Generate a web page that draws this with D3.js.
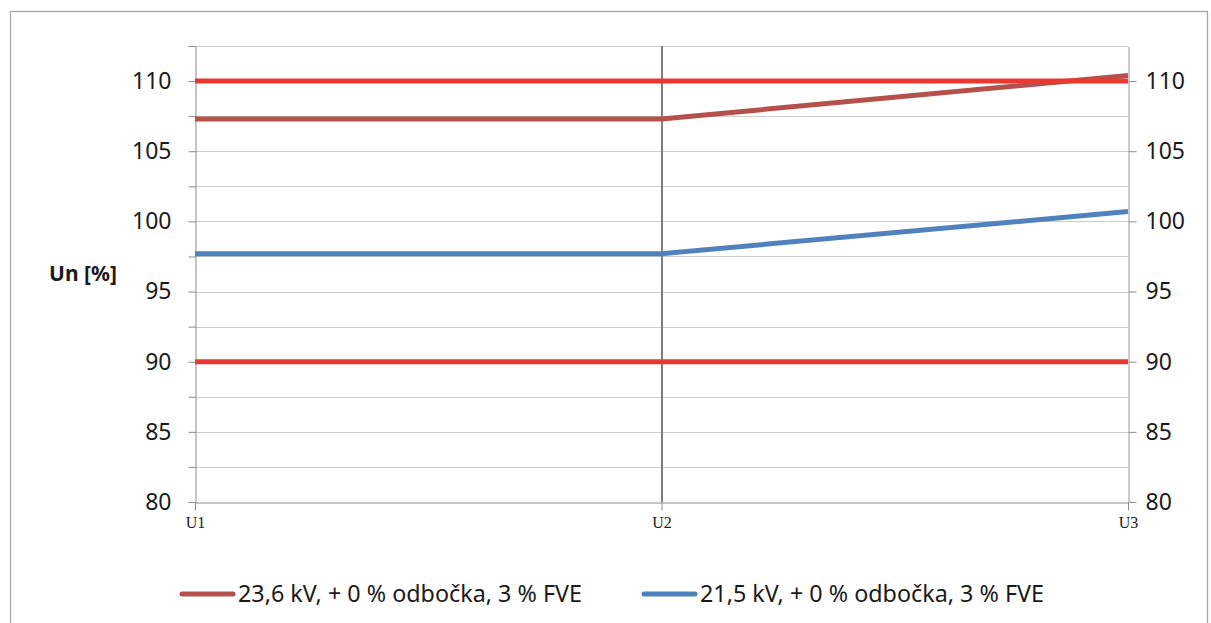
<!DOCTYPE html>
<html>
<head>
<meta charset="utf-8">
<script src="https://cdn.jsdelivr.net/npm/d3@7"></script>
<style>
  html, body { margin: 0; padding: 0; background: #fff; }
  svg { display: block; }
</style>
</head>
<body>
<svg id="chart" width="1211" height="623"></svg>
<script>
// Measurement points along the feeder
const categories = ["U1", "U2", "U3"];
// Voltage profiles, % of nominal
const seriesNames = ["23,6 kV, + 0 % odbočka, 3 % FVE", "21,5 kV, + 0 % odbočka, 3 % FVE"];
const seriesHigh = [107.3, 107.3, 110.4];
const seriesLow = [97.7, 97.7, 100.7];
// Permitted voltage band limits
const upperLimit = [110, 110, 110];
const lowerLimit = [90, 90, 90];
// Axis ticks
const majorTicks = [80, 85, 90, 95, 100, 105, 110];
const minorTicks = [80, 82.5, 85, 87.5, 90, 92.5, 95, 97.5, 100, 102.5, 105, 107.5, 110, 112.5];

const svg = d3.select("#chart");
const font = "'Noto Sans', 'Open Sans', sans-serif";

const plotLeft = 195, plotRight = 1128, plotTop = 46, plotBottom = 502;

const x = d3.scalePoint().domain(categories).range([plotLeft, plotRight]);
const y = d3.scaleLinear().domain([80, 112.5]).range([plotBottom, plotTop]);

// Outer chart frame
svg.append("rect")
  .attr("x", 10.5).attr("y", 11.5)
  .attr("width", 1197).attr("height", 700)
  .attr("fill", "#fff").attr("stroke", "#a6a6a6").attr("stroke-width", 1.3);

// Horizontal gridlines
svg.append("g")
  .selectAll("line")
  .data(minorTicks.filter(v => v > 80))
  .join("line")
  .attr("x1", plotLeft).attr("x2", plotRight)
  .attr("y1", d => Math.round(y(d)) + 0.5).attr("y2", d => Math.round(y(d)) + 0.5)
  .attr("stroke", "#cdcdcd").attr("stroke-width", 1);

// Left axis: ticks every 2.5, labels on whole fives
const leftAxis = d3.axisLeft(y).tickValues(minorTicks).tickSize(7).tickSizeOuter(0).tickPadding(17)
  .tickFormat(d => majorTicks.includes(d) ? d : "");
const gl = svg.append("g").attr("transform", `translate(${plotLeft + 0.5},0)`).call(leftAxis);
gl.select(".domain").attr("stroke", "#8c8c8c");
gl.selectAll(".tick line").attr("stroke", "#8c8c8c");
gl.selectAll(".tick text").attr("font-family", font).attr("font-size", 23).attr("fill", "#1a1a1a");

// Right axis
const rightAxis = d3.axisRight(y).tickValues(majorTicks).tickSize(8).tickSizeOuter(0).tickPadding(9);
const gr = svg.append("g").attr("transform", `translate(${plotRight + 0.5},0)`).call(rightAxis);
gr.select(".domain").attr("stroke", "#9a9a9a");
gr.selectAll(".tick line").attr("stroke", "#8c8c8c");
gr.selectAll(".tick text").attr("font-family", font).attr("font-size", 23).attr("fill", "#1a1a1a");

// Category axis
const bottomAxis = d3.axisBottom(x).tickSize(8).tickSizeOuter(0).tickPadding(6);
const gb = svg.append("g").attr("transform", `translate(0,${plotBottom + 0.5})`).call(bottomAxis);
gb.select(".domain").attr("stroke", "#8c8c8c");
gb.selectAll(".tick line").attr("stroke", "#8c8c8c");
gb.selectAll(".tick text").attr("font-family", "'Liberation Serif', 'DejaVu Serif', serif")
  .attr("font-size", 16).attr("fill", "#1a1a1a");

// Vertical marker at U2
svg.append("line")
  .attr("x1", x("U2") + 0.5).attr("x2", x("U2") + 0.5)
  .attr("y1", plotTop).attr("y2", plotBottom)
  .attr("stroke", "#7f7f7f").attr("stroke-width", 2);

// Y axis title
svg.append("text")
  .attr("x", 83).attr("y", 281)
  .attr("text-anchor", "middle")
  .attr("font-family", font).attr("font-weight", "bold").attr("font-size", 21)
  .attr("fill", "#1a1a1a")
  .text("Un [%]");

const line = d3.line().x((d, i) => x(categories[i])).y(d => y(d));

const series = [
  { values: seriesHigh, color: "#b5504d" },
  { values: seriesLow, color: "#4f81bd" },
  { values: upperLimit, color: "#e8382f" },
  { values: lowerLimit, color: "#e8382f" }
];

svg.append("g")
  .selectAll("path")
  .data(series)
  .join("path")
  .attr("d", d => line(d.values))
  .attr("fill", "none")
  .attr("stroke", d => d.color)
  .attr("stroke-width", 5);

// Legend
const legendItems = [
  { name: seriesNames[0], color: "#b5504d", x0: 180 },
  { name: seriesNames[1], color: "#4f81bd", x0: 642 }
];
const lg = svg.append("g");
legendItems.forEach(item => {
  lg.append("line")
    .attr("x1", item.x0 + 2).attr("x2", item.x0 + 53)
    .attr("y1", 594).attr("y2", 594)
    .attr("stroke", item.color).attr("stroke-width", 5).attr("stroke-linecap", "round");
  lg.append("text")
    .attr("x", item.x0 + 58).attr("y", 602)
    .attr("font-family", font).attr("font-size", 23).attr("fill", "#1a1a1a")
    .attr("textLength", 344).attr("lengthAdjust", "spacingAndGlyphs")
    .text(item.name);
});
</script>
</body>
</html>
